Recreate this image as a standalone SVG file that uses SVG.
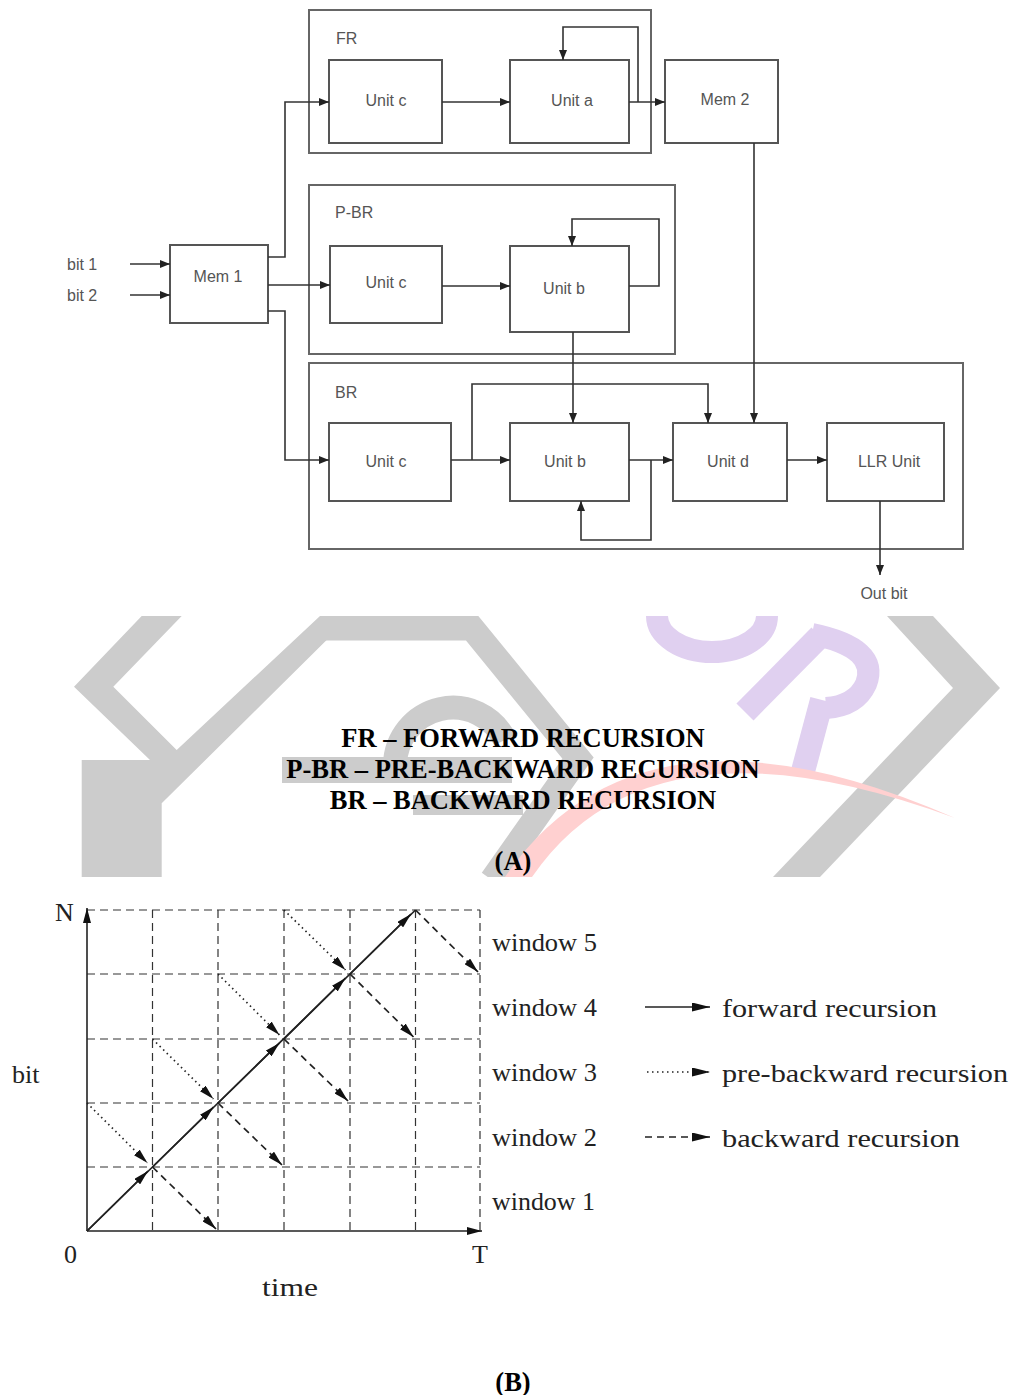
<svg xmlns="http://www.w3.org/2000/svg" width="1013" height="1395" viewBox="0 0 1013 1395">
<style>
.box{fill:#fff;stroke:#555;stroke-width:2}
.grp{fill:none;stroke:#666;stroke-width:2}
.ln{fill:none;stroke:#333;stroke-width:1.6}
.lbl{font-family:"Liberation Sans",Arial,sans-serif;font-size:16px;fill:#555;text-anchor:middle}
.lbl2{font-family:"Liberation Sans",Arial,sans-serif;font-size:16px;fill:#555}
.cap{font-family:"Liberation Serif","Times New Roman",serif;font-weight:bold;font-size:26.5px;fill:#000;text-anchor:middle}
.ct{font-family:"Liberation Serif","Times New Roman",serif;font-size:26px;fill:#222}
.grid{fill:none;stroke:#333;stroke-width:1.2;stroke-dasharray:8 5}
.axis{fill:none;stroke:#222;stroke-width:1.6}
.fw{fill:none;stroke:#222;stroke-width:1.7}
.pb{fill:none;stroke:#222;stroke-width:1.7;stroke-dasharray:1.5 3.5}
.bw{fill:none;stroke:#222;stroke-width:1.7;stroke-dasharray:7 5}
.wg{fill:#cccccc}
</style>
<defs>
<marker id="ah" markerUnits="userSpaceOnUse" markerWidth="10" markerHeight="8" refX="10" refY="4" orient="auto"><path d="M0,0 L10,4 L0,8 z" fill="#222"/></marker>
<marker id="ch" markerUnits="userSpaceOnUse" markerWidth="15" markerHeight="8" refX="15" refY="4" orient="auto"><path d="M0,0 L15,4 L0,8 z" fill="#111"/></marker>
<marker id="lh" markerUnits="userSpaceOnUse" markerWidth="18" markerHeight="9" refX="18" refY="4.5" orient="auto"><path d="M0,0 L18,4.5 L0,9 z" fill="#111"/></marker>
<clipPath id="wc"><rect x="0" y="616" width="1013" height="261"/></clipPath>
</defs>
<rect width="1013" height="1395" fill="#fff"/>

<g id="watermark" clip-path="url(#wc)">
<polygon class="wg" points="141.7,616 181.7,616 113.3,686.7 176.7,750 320,616 326.7,640 161.7,803.3 161.7,877 81.7,877 81.7,760 150,760 74,686.7"/>
<polyline points="320,628 472,628 578,758 492,880" fill="none" stroke="#cccccc" stroke-width="25" stroke-linejoin="miter"/>
<path d="M395,765 A58,58 0 0 1 505,740" fill="none" stroke="#cccccc" stroke-width="24"/>
<rect class="wg" x="282" y="757" width="230" height="26"/>
<rect class="wg" x="413" y="795" width="110" height="20"/>
<polygon class="wg" points="887,616 933,616 1000,688 820,877 773,877 953,688"/>
<path d="M657,616 A55,36 0 0 0 767,616" fill="none" stroke="#e0d0f0" stroke-width="22"/>
<path d="M745,712 L820,636" fill="none" stroke="#e0d0f0" stroke-width="24"/>
<path d="M812,634 Q880,648 866,684 Q856,706 826,708" fill="none" stroke="#e0d0f0" stroke-width="22"/>
<path d="M822,700 L802,775" fill="none" stroke="#e0d0f0" stroke-width="24"/>
<path d="M505,877 Q640,680 955,818 Q650,705 532,877 Z" fill="#ffd0d0"/>
</g>

<g id="FR">
<rect class="grp" x="309" y="10" width="342" height="143"/>
<text class="lbl2" x="336" y="44">FR</text>
</g>
<g id="PBR">
<rect class="grp" x="309" y="185" width="366" height="169"/>
<text class="lbl2" x="335" y="218">P-BR</text>
</g>
<g id="BR">
<rect class="grp" x="309" y="363" width="654" height="186"/>
<text class="lbl2" x="335" y="398">BR</text>
</g>
<g id="mem1"><rect class="box" x="170" y="245" width="98" height="78"/><text class="lbl" x="218" y="282">Mem 1</text></g>
<g id="fr_unit_c"><rect class="box" x="329" y="60" width="113" height="83"/><text class="lbl" x="386" y="106">Unit c</text></g>
<g id="fr_unit_a"><rect class="box" x="510" y="60" width="119" height="83"/><text class="lbl" x="572" y="106">Unit a</text></g>
<g id="mem2"><rect class="box" x="665" y="60" width="113" height="83"/><text class="lbl" x="725" y="105">Mem 2</text></g>
<g id="pbr_unit_c"><rect class="box" x="330" y="246" width="112" height="77"/><text class="lbl" x="386" y="288">Unit c</text></g>
<g id="pbr_unit_b"><rect class="box" x="510" y="246" width="119" height="86"/><text class="lbl" x="564" y="294">Unit b</text></g>
<g id="br_unit_c"><rect class="box" x="329" y="423" width="122" height="78"/><text class="lbl" x="386" y="467">Unit c</text></g>
<g id="br_unit_b"><rect class="box" x="510" y="423" width="119" height="78"/><text class="lbl" x="565" y="467">Unit b</text></g>
<g id="unit_d"><rect class="box" x="673" y="423" width="114" height="78"/><text class="lbl" x="728" y="467">Unit d</text></g>
<g id="llr"><rect class="box" x="827" y="423" width="117" height="78"/><text class="lbl" x="889" y="467">LLR Unit</text></g>
<g id="inputs">
<text class="lbl2" x="67" y="270">bit 1</text>
<text class="lbl2" x="67" y="301">bit 2</text>
<text class="lbl" x="884" y="599">Out bit</text>
</g>

<g id="connectors">
<path class="ln" d="M130,264 H170" marker-end="url(#ah)"/>
<path class="ln" d="M130,295 H170" marker-end="url(#ah)"/>
<path class="ln" d="M268,257 H285 V102 H329" marker-end="url(#ah)"/>
<path class="ln" d="M268,285 H330" marker-end="url(#ah)"/>
<path class="ln" d="M268,311 H285 V460 H329" marker-end="url(#ah)"/>
<path class="ln" d="M442,102 H510" marker-end="url(#ah)"/>
<path class="ln" d="M629,102 H665" marker-end="url(#ah)"/>
<path class="ln" d="M638,102 V27 H563 V60" marker-end="url(#ah)"/>
<path class="ln" d="M442,286 H510" marker-end="url(#ah)"/>
<path class="ln" d="M629,286 H659 V219 H572 V246" marker-end="url(#ah)"/>
<path class="ln" d="M573,332 V423" marker-end="url(#ah)"/>
<path class="ln" d="M754,143 V423" marker-end="url(#ah)"/>
<path class="ln" d="M451,460 H510" marker-end="url(#ah)"/>
<path class="ln" d="M472,460 V384 H708 V423" marker-end="url(#ah)"/>
<path class="ln" d="M629,460 H673" marker-end="url(#ah)"/>
<path class="ln" d="M651,460 V540 H581 V501" marker-end="url(#ah)"/>
<path class="ln" d="M787,460 H827" marker-end="url(#ah)"/>
<path class="ln" d="M880,501 V575" marker-end="url(#ah)"/>
</g>

<g id="caption">
<text class="cap" x="523" y="747">FR – FORWARD RECURSION</text>
<text class="cap" x="523" y="778">P-BR – PRE-BACKWARD RECURSION</text>
<text class="cap" x="523" y="809">BR – BACKWARD RECURSION</text>
<text class="cap" x="513" y="870">(A)</text>
</g>

<g id="chart">
<path class="grid" d="M152.5,910 V1231 M218,910 V1231 M284,910 V1231 M350,910 V1231 M415.5,910 V1231 M480,910 V1231"/>
<path class="grid" d="M87,910 H480 M87,974 H480 M87,1039 H480 M87,1103 H480 M87,1167 H480"/>
<path class="axis" d="M87,1231 V908" marker-end="url(#ch)"/>
<path class="axis" d="M87,1231 H482" marker-end="url(#ch)"/>
<path class="fw" d="M87,1231 L415.5,910"/>
<path class="fw" d="M87,1231 L148,1171" marker-end="url(#ch)"/>
<path class="fw" d="M152.5,1167 L213.5,1107" marker-end="url(#ch)"/>
<path class="fw" d="M218,1103 L279.5,1043" marker-end="url(#ch)"/>
<path class="fw" d="M284,1039 L345.5,978" marker-end="url(#ch)"/>
<path class="fw" d="M350,974 L411,914" marker-end="url(#ch)"/>
<path class="pb" d="M87,1103 L147.5,1163" marker-end="url(#ch)"/>
<path class="pb" d="M152.5,1039 L213.5,1099" marker-end="url(#ch)"/>
<path class="pb" d="M218,974 L279.5,1035" marker-end="url(#ch)"/>
<path class="pb" d="M284,910 L345.5,970" marker-end="url(#ch)"/>
<path class="bw" d="M152.5,1167 L216,1229" marker-end="url(#ch)"/>
<path class="bw" d="M218,1103 L282,1165" marker-end="url(#ch)"/>
<path class="bw" d="M284,1039 L348,1101" marker-end="url(#ch)"/>
<path class="bw" d="M350,974 L413.5,1037" marker-end="url(#ch)"/>
<path class="bw" d="M415.5,910 L478,972" marker-end="url(#ch)"/>
<text class="ct" x="55" y="921">N</text>
<text class="ct" x="12" y="1083">bit</text>
<text class="ct" x="64" y="1263">0</text>
<text class="ct" x="472" y="1263">T</text>
<text class="ct" x="262" y="1296" textLength="56" lengthAdjust="spacingAndGlyphs">time</text>
<text class="ct" x="492" y="951" textLength="105" lengthAdjust="spacingAndGlyphs">window 5</text>
<text class="ct" x="492" y="1016" textLength="105" lengthAdjust="spacingAndGlyphs">window 4</text>
<text class="ct" x="492" y="1081" textLength="105" lengthAdjust="spacingAndGlyphs">window 3</text>
<text class="ct" x="492" y="1146" textLength="105" lengthAdjust="spacingAndGlyphs">window 2</text>
<text class="ct" x="492" y="1210" textLength="103" lengthAdjust="spacingAndGlyphs">window 1</text>
</g>

<g id="legend">
<path class="fw" d="M645,1007 H710" marker-end="url(#lh)"/>
<path class="pb" d="M647,1072 H710" marker-end="url(#lh)"/>
<path class="bw" d="M645,1137 H710" marker-end="url(#lh)"/>
<text class="ct" x="722" y="1017" textLength="215" lengthAdjust="spacingAndGlyphs">forward recursion</text>
<text class="ct" x="722" y="1082" textLength="286" lengthAdjust="spacingAndGlyphs">pre-backward recursion</text>
<text class="ct" x="722" y="1147" textLength="238" lengthAdjust="spacingAndGlyphs">backward recursion</text>
</g>

<text class="cap" x="513" y="1391">(B)</text>
</svg>
